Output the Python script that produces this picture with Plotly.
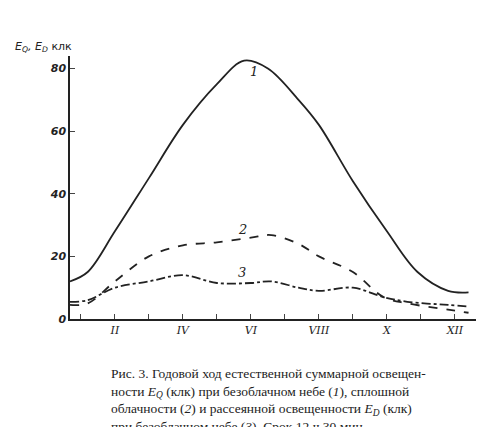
import plotly.graph_objects as go

months1 = [0.68, 1.2, 2, 3, 4, 5, 5.8, 6.5, 7.4, 8, 9, 10, 10.9, 11.8, 12.4]
eq_clear = [12, 15, 28, 45, 62, 75, 82.5, 80, 70, 62, 44, 28, 15, 9, 8.5]
months2 = [0.68, 1.2, 2, 3, 4, 5, 6, 6.6, 7.4, 8, 9, 9.9, 10.6, 11.8, 12.4]
eq_cloudy = [4.5, 5, 12, 20, 23.5, 24.5, 26, 26.8, 24, 20, 15, 7, 5, 3, 2]
months3 = [0.68, 1.2, 2, 3, 4, 5, 6, 6.6, 7.4, 8, 9, 9.9, 10.6, 11.8, 12.4]
ed_clear = [5.5, 6, 10, 12, 14, 11.5, 11.5, 12, 10, 9, 10, 7, 5.5, 4.5, 4]
tick_vals = list(range(1, 13))
tick_text = ["", "<i>II</i>", "", "<i>IV</i>", "", "<i>VI</i>", "", "<i>VIII</i>", "", "<i>X</i>", "", "<i>XII</i>"]

fig = go.Figure()
lc = "#222"
fig.add_trace(go.Scatter(x=months1, y=eq_clear, mode="lines", line=dict(color=lc, width=1.8, shape="spline")))
fig.add_trace(go.Scatter(x=months2, y=eq_cloudy, mode="lines", line=dict(color=lc, width=1.8, dash="dash", shape="spline")))
fig.add_trace(go.Scatter(x=months3, y=ed_clear, mode="lines", line=dict(color=lc, width=1.8, dash="dashdot", shape="spline")))

for x, y, t in [(6.1, 79, "1"), (5.75, 28.5, "2"), (5.75, 15, "3")]:
    fig.add_annotation(x=x, y=y, text=f"<i>{t}</i>", showarrow=False, font=dict(size=13, color=lc, family="DejaVu Serif"))

fig.add_annotation(xref="paper", yref="paper", x=-0.14, y=1.0, xanchor="left", yanchor="bottom",
                   text="<i>E<sub>Q</sub>, E<sub>D</sub></i> клк", showarrow=False,
                   font=dict(size=11, color=lc, family="DejaVu Sans"))
caption = ("Рис. 3. Годовой ход естественной суммарной освещен-<br>"
           "ности <i>E<sub>Q</sub></i> (клк) при безоблачном небе (<i>1</i>), сплошной<br>"
           "облачности (<i>2</i>) и рассеянной освещенности <i>E<sub>D</sub></i> (клк)<br>"
           "при безоблачном небе (<i>3</i>). Срок 12 ч 30 мин.")
fig.add_annotation(xref="paper", yref="paper", x=0.49, y=-0.17, xanchor="center", yanchor="top",
                   text=caption, showarrow=False, align="left",
                   font=dict(size=13.5, color=lc, family="Liberation Serif"))

fig.update_layout(width=486, height=427, margin=dict(l=62, r=18, t=48, b=116),
                  paper_bgcolor="white", plot_bgcolor="white", showlegend=False)
fig.update_xaxes(range=[0.68, 12.62], tickvals=tick_vals, ticktext=tick_text, ticks="inside", ticklen=5,
                 showline=True, linecolor=lc, linewidth=1.5, showgrid=False, zeroline=False,
                 tickfont=dict(size=11, color=lc, family="DejaVu Serif"))
fig.update_yaxes(range=[0, 84], tickvals=[0, 20, 40, 60, 80], ticktext=["<i><b>0</b></i>", "<i><b>20</b></i>", "<i><b>40</b></i>", "<i><b>60</b></i>", "<i><b>80</b></i>"],
                 ticks="inside", ticklen=5, showline=True, linecolor=lc, linewidth=1.5, showgrid=False, zeroline=False,
                 tickfont=dict(size=11, color=lc, family="DejaVu Sans"))
fig.write_html("out.html")
